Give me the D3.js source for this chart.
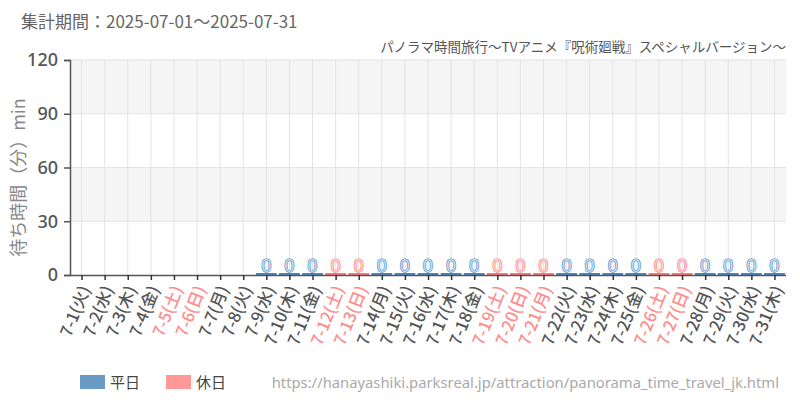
<!DOCTYPE html>
<html><head><meta charset="utf-8">
<script src="https://cdn.jsdelivr.net/npm/d3@7"></script>
<style>
body{margin:0;background:#fff;}
svg{display:block;font-family:"Noto Sans CJK JP","Noto Sans",sans-serif;}
</style></head>
<body><svg id="c" width="800" height="400"></svg>
<script>
const dates = ["7-1","7-2","7-3","7-4","7-5","7-6","7-7","7-8","7-9","7-10","7-11","7-12","7-13","7-14","7-15","7-16","7-17","7-18","7-19","7-20","7-21","7-22","7-23","7-24","7-25","7-26","7-27","7-28","7-29","7-30","7-31"];
const weekdays = ["火","水","木","金","土","日","月","火","水","木","金","土","日","月","火","水","木","金","土","日","月","火","水","木","金","土","日","月","火","水","木"];
const holiday = [0,0,0,0,1,1,0,0,0,0,0,1,1,0,0,0,0,0,1,1,1,0,0,0,0,1,1,0,0,0,0];
const waitValues = [null,null,null,null,null,null,null,null,0,0,0,0,0,0,0,0,0,0,0,0,0,0,0,0,0,0,0,0,0,0,0];
const yTicks = [0,30,60,90,120];
const titleText = "集計期間：2025-07-01～2025-07-31";
const subtitleText = "パノラマ時間旅行～TVアニメ『呪術廻戦』スペシャルバージョン～";
const yTitle = "待ち時間（分）min";
const legendLabels = ["平日","休日"];
const urlText = "https://hanayashiki.parksreal.jp/attraction/panorama_time_travel_jk.html";

const svg = d3.select("#c");
const m = {l:70, r:786, t:60, b:275};
const x = d3.scaleBand().domain(dates).range([m.l, m.r]).paddingInner(0.1).paddingOuter(0.05);
const xc = d3.scalePoint().domain(dates).range([m.l, m.r]).padding(0.5);
const y = d3.scaleLinear().domain([0,120]).range([m.b, m.t]);
const colFill = ["#6a9bc4","#ff9999"];
const colLine = ["#4a85bd","#ff7777"];
const colText = ["#555","#ff8c8c"];

// alternating bands
for (let i=0;i<yTicks.length-1;i++){
  svg.append("rect").attr("x",m.l).attr("width",m.r-m.l)
    .attr("y",y(yTicks[i+1])).attr("height",y(yTicks[i])-y(yTicks[i+1]))
    .attr("fill", i%2===1 ? "#f5f5f5" : "#ffffff");
}
// grid
svg.append("g").selectAll("line").data(dates).join("line")
  .attr("x1",d=>xc(d)).attr("x2",d=>xc(d)).attr("y1",m.t).attr("y2",m.b)
  .attr("stroke","#e3e3e3").attr("stroke-width",1);
svg.append("g").selectAll("line").data(yTicks.slice(1)).join("line")
  .attr("x1",m.l).attr("x2",m.r).attr("y1",d=>y(d)).attr("y2",d=>y(d))
  .attr("stroke","#e3e3e3").attr("stroke-width",1);

// bars
const data = dates.map((d,i)=>({d, v:waitValues[i], h:holiday[i]})).filter(o=>o.v!==null);
const bw = x.bandwidth();
svg.append("g").selectAll("rect").data(data).join("rect")
  .attr("x",o=>xc(o.d)-bw/2).attr("width",bw)
  .attr("y",o=>y(o.v)).attr("height",o=>y(0)-y(o.v))
  .attr("fill",o=>colFill[o.h]);
svg.append("g").selectAll("line").data(data).join("line")
  .attr("x1",o=>xc(o.d)-bw/2).attr("x2",o=>xc(o.d)+bw/2)
  .attr("y1",o=>y(o.v)-1).attr("y2",o=>y(o.v)-1)
  .attr("stroke",o=>colLine[o.h]).attr("stroke-width",2);
svg.append("g").selectAll("text").data(data).join("text")
  .attr("x",o=>xc(o.d)).attr("y",o=>y(o.v)-3)
  .attr("text-anchor","middle").attr("font-size",18)
  .attr("font-family","'Noto Sans','DejaVu Sans',sans-serif")
  .attr("fill",o=>o.h? "#ffd0d0":"#c6dcf0").attr("stroke",o=>colLine[o.h]).attr("stroke-width",1.2)
  .attr("paint-order","stroke")
  .text(o=>o.v);

// y axis
const ya = svg.append("g").attr("transform",`translate(${m.l},0)`)
  .call(d3.axisLeft(y).tickValues(yTicks).tickSize(6).tickPadding(6));
ya.select(".domain").attr("stroke","#555").attr("stroke-width",1.5);
ya.selectAll(".tick line").attr("stroke","#555").attr("stroke-width",1.5);
ya.selectAll(".tick text").attr("font-size",18).attr("fill","#555").attr("font-weight","500")
  .attr("font-family","'Noto Sans','Noto Sans CJK JP',sans-serif");

// x axis
const xa = svg.append("g").attr("transform",`translate(0,${m.b})`)
  .call(d3.axisBottom(xc).tickSize(5).tickSizeOuter(0).tickFormat(""));
xa.select(".domain").attr("stroke","#555").attr("stroke-width",1.5).attr("d",`M${m.l},0.5H${m.r}`);
xa.selectAll(".tick line").attr("stroke","#333").attr("stroke-width",1.5);
svg.append("g").selectAll("text").data(dates).join("text")
  .attr("transform",d=>`translate(${xc(d)+5},${m.b+12}) rotate(-68)`)
  .attr("text-anchor","end").attr("dominant-baseline","middle")
  .attr("font-size",16.5).attr("font-weight","500").attr("fill",(d,i)=>colText[holiday[i]])
  .text((d,i)=>`${d}(${weekdays[i]})`);

// y title
svg.append("text").attr("transform",`translate(25,${(m.t+m.b)/2+10}) rotate(-90)`)
  .attr("text-anchor","middle").attr("font-size",18).attr("fill","#888")
  .text(yTitle);

// titles
svg.append("text").attr("x",21).attr("y",28).attr("font-size",17).attr("fill","#666").text(titleText);
svg.append("text").attr("x",786).attr("y",52).attr("text-anchor","end").attr("font-size",13.5).attr("fill","#555").text(subtitleText);

// legend
const lg = svg.append("g");
[0,1].forEach(i=>{
  const lx = 80 + i*86;
  lg.append("rect").attr("x",lx).attr("y",375).attr("width",25).attr("height",14).attr("fill",colFill[i]);
  lg.append("text").attr("x",lx+30).attr("y",388).attr("font-size",15).attr("fill","#444").text(legendLabels[i]);
});
svg.append("text").attr("x",779).attr("y",388).attr("text-anchor","end").attr("font-size",14.8).attr("fill","#aaa")
  .attr("font-family","'Noto Sans','Noto Sans CJK JP',sans-serif").text(urlText);
</script></body></html>
